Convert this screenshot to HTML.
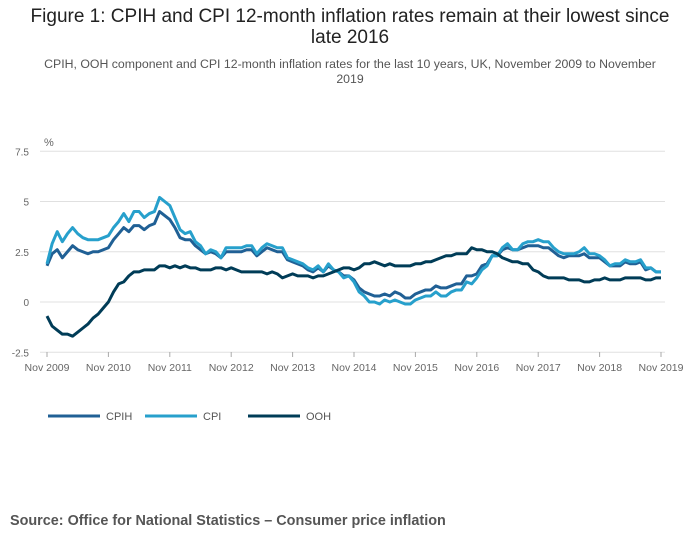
<!DOCTYPE html>
<html><head><meta charset="utf-8"><style>
body{margin:0;background:#fff;font-family:"Liberation Sans",sans-serif;}
#wrap{position:relative;width:700px;height:549px;overflow:hidden;}
.t{position:absolute;left:0;width:700px;text-align:center;color:#222;}
</style></head><body><div id="wrap">
<div class="t" style="top:6px;font-size:19px;line-height:21px;">Figure 1: CPIH and CPI 12-month inflation rates remain at their lowest since<br>late 2016</div>
<div class="t" style="top:57px;font-size:12.3px;line-height:15px;color:#555;">CPIH, OOH component and CPI 12-month inflation rates for the last 10 years, UK, November 2009 to November<br>2019</div>
<svg id="c" width="700" height="549" style="position:absolute;left:0;top:0"></svg>
<div style="position:absolute;left:10px;top:513px;font-size:14.4px;font-weight:bold;color:#555;">Source: Office for National Statistics – Consumer price inflation</div>
</div>
<script>
const xLabels=["Nov 2009","Nov 2010","Nov 2011","Nov 2012","Nov 2013","Nov 2014","Nov 2015","Nov 2016","Nov 2017","Nov 2018","Nov 2019"];
const yTicks=[-2.5,0,2.5,5,7.5];
const cpi=[1.9,2.9,3.5,3.0,3.4,3.7,3.4,3.2,3.1,3.1,3.1,3.2,3.3,3.7,4.0,4.4,4.0,4.5,4.5,4.2,4.4,4.5,5.2,5.0,4.8,4.2,3.6,3.4,3.5,3.0,2.8,2.4,2.6,2.5,2.2,2.7,2.7,2.7,2.7,2.8,2.8,2.4,2.7,2.9,2.8,2.7,2.7,2.2,2.1,2.0,1.9,1.7,1.6,1.8,1.5,1.9,1.6,1.5,1.2,1.3,1.0,0.5,0.3,0.0,0.0,-0.1,0.1,0.0,0.1,0.0,-0.1,-0.1,0.1,0.2,0.3,0.3,0.5,0.3,0.3,0.5,0.6,0.6,1.0,0.9,1.2,1.6,1.8,2.3,2.3,2.7,2.9,2.6,2.6,2.9,3.0,3.0,3.1,3.0,3.0,2.7,2.5,2.4,2.4,2.4,2.5,2.7,2.4,2.4,2.3,2.1,1.8,1.9,1.9,2.1,2.0,2.0,2.1,1.7,1.7,1.5,1.5];
const cpih=[1.8,2.4,2.6,2.2,2.5,2.8,2.6,2.5,2.4,2.5,2.5,2.6,2.7,3.1,3.4,3.7,3.5,3.8,3.8,3.6,3.8,3.9,4.5,4.3,4.1,3.7,3.2,3.1,3.1,2.8,2.6,2.4,2.5,2.4,2.2,2.5,2.5,2.5,2.5,2.6,2.6,2.3,2.5,2.7,2.6,2.5,2.5,2.1,2.0,1.9,1.8,1.6,1.5,1.7,1.5,1.8,1.6,1.5,1.3,1.3,1.1,0.7,0.5,0.4,0.3,0.3,0.4,0.3,0.5,0.4,0.2,0.2,0.4,0.5,0.6,0.6,0.8,0.7,0.7,0.8,0.9,0.9,1.3,1.3,1.4,1.8,1.9,2.3,2.3,2.6,2.7,2.6,2.6,2.7,2.8,2.8,2.8,2.7,2.7,2.5,2.3,2.2,2.3,2.3,2.3,2.4,2.2,2.2,2.2,2.0,1.8,1.8,1.8,2.0,1.9,1.9,2.0,1.6,1.7,1.5,1.5];
const ooh=[-0.7,-1.2,-1.4,-1.6,-1.6,-1.7,-1.5,-1.3,-1.1,-0.8,-0.6,-0.3,0.0,0.5,0.9,1.0,1.3,1.5,1.5,1.6,1.6,1.6,1.8,1.8,1.7,1.8,1.7,1.8,1.7,1.7,1.6,1.6,1.6,1.7,1.7,1.6,1.7,1.6,1.5,1.5,1.5,1.5,1.5,1.4,1.5,1.4,1.2,1.3,1.4,1.3,1.3,1.3,1.2,1.3,1.3,1.4,1.5,1.6,1.7,1.7,1.6,1.7,1.9,1.9,2.0,1.9,1.8,1.9,1.8,1.8,1.8,1.8,1.9,1.9,2.0,2.0,2.1,2.2,2.3,2.3,2.4,2.4,2.4,2.7,2.6,2.6,2.5,2.5,2.4,2.2,2.1,2.0,2.0,1.9,1.9,1.6,1.5,1.3,1.2,1.2,1.2,1.2,1.1,1.1,1.1,1.0,1.0,1.1,1.1,1.2,1.1,1.1,1.1,1.2,1.2,1.2,1.2,1.1,1.1,1.2,1.2];
const series=[{name:"CPIH",vals:cpih,col:"#206095"},{name:"CPI",vals:cpi,col:"#27a0cc"},{name:"OOH",vals:ooh,col:"#003c57"}];
const NS="http://www.w3.org/2000/svg",svg=document.getElementById('c');
const X0=47,X1=661,Y0=302,PU=20.1;
const x=i=>X0+(X1-X0)*i/120, y=v=>Y0-v*PU;
function mk(t,a,txt){const e=document.createElementNS(NS,t);for(const k in a)e.setAttribute(k,a[k]);if(txt!=null)e.textContent=txt;svg.appendChild(e);return e;}
yTicks.forEach(v=>{
 const l=mk('line',{x1:40,x2:665,y1:y(v),y2:y(v),stroke:'#e0e0e0','stroke-width':1});
 
 
 const t=mk('text',{x:29,y:y(v)+4,'font-size':10,fill:'#666','text-anchor':'end'},v===0?'0':String(v));
 
 
});
const u=mk('text',{x:44,y:146,'font-size':11,fill:'#666'},'%');


xLabels.forEach((s,i)=>{
 const px=x(i*12);
 const tk=mk('line',{x1:px,x2:px,y1:352,y2:357,stroke:'#aaa'});
 
 
 const t=mk('text',{x:px,y:371,'font-size':10.5,fill:'#666','text-anchor':'middle'},s);
 
 
});
series.forEach(s=>{
 const p=mk('polyline',{points:s.vals.map((v,i)=>x(i)+','+y(v)).join(' '),fill:'none',stroke:s.col,'stroke-width':3,'stroke-linejoin':'round'});
 
 
});
const lx=[48,145,248];
series.forEach((s,i)=>{
 const g=mk('g',{});
 
 
 const l=document.createElementNS(NS,'line');
 l.setAttribute('x1',lx[i]);l.setAttribute('x2',lx[i]+52);l.setAttribute('y1',416);l.setAttribute('y2',416);
 l.setAttribute('stroke',s.col);l.setAttribute('stroke-width',3);g.appendChild(l);
 const t=document.createElementNS(NS,'text');
 t.setAttribute('x',lx[i]+58);t.setAttribute('y',420);t.setAttribute('font-size',11);t.setAttribute('fill','#555');
 t.textContent=s.name;g.appendChild(t);
});
</script></body></html>
